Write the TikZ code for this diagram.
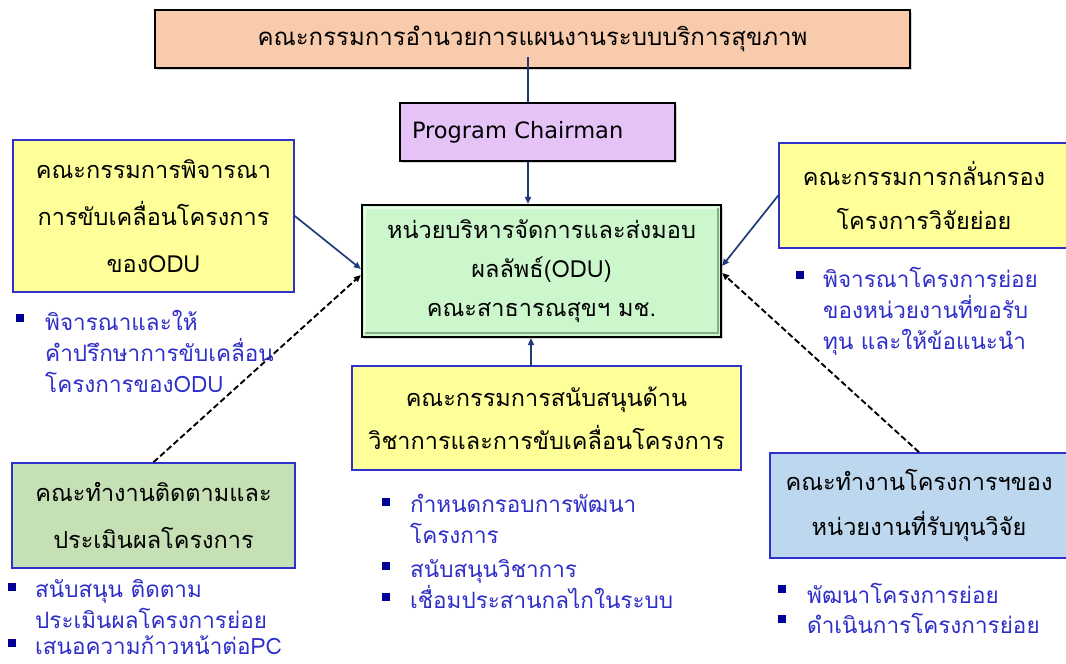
\documentclass[tikz,border=0pt]{standalone}
\usepackage{fontspec}
\newfontfamily\thai[Script=Thai]{Loma}
\newfontfamily\latn{DejaVu Sans}
\usetikzlibrary{shadows,arrows.meta}
\definecolor{peach}{HTML}{F8CBAD}
\definecolor{lilac}{HTML}{E6C3F7}
\definecolor{mint}{HTML}{CCF7CC}
\definecolor{lemon}{HTML}{FFFF99}
\definecolor{sage}{HTML}{C5E0B4}
\definecolor{sky}{HTML}{BDD7EE}
\definecolor{boxblue}{HTML}{3030CC}
\definecolor{navy}{HTML}{1F3A78}
\definecolor{bultext}{HTML}{2E2EC8}
\definecolor{bulsq}{HTML}{000099}
\begin{document}
\begin{tikzpicture}[x=1pt,y=-1pt,
  dark/.style={draw=black, line width=2.2pt, inner sep=0pt, align=center,
    drop shadow={shadow xshift=1.5pt, shadow yshift=-1.5pt, opacity=0.35}},
  box/.style={draw=boxblue, line width=1.6pt, inner sep=0pt, align=center,
    font=\thai\fontsize{23.5}{47}\selectfont},
  bul/.style={anchor=base west, inner sep=0pt, align=left, text=bultext,
    font=\thai\fontsize{22.5}{31}\selectfont},
  sq/.style={fill=bulsq, minimum size=8.5pt, inner sep=0pt},
  conn/.style={draw=navy, line width=1.7pt, -{Triangle[length=7pt,width=6pt]}},
  dconn/.style={draw=black, line width=1.9pt, dash pattern=on 6pt off 3pt, -{Triangle[length=7pt,width=6pt]}}
]
\useasboundingbox (0,0) rectangle (1066,664);

% boxes
\node[dark, fill=peach, minimum width=755pt, minimum height=58pt,
  font=\thai\fontsize{24}{28}\selectfont] (top) at (532.5,39) {คณะกรรมการอำนวยการแผนงานระบบบริการสุขภาพ};
\node[dark, fill=lilac, minimum width=275pt, minimum height=58pt, text width=251pt, align=left,
  font=\latn\fontsize{22.5}{26}\selectfont] (pc) at (537.5,132) {Program Chairman};
\node[dark, fill=mint, minimum width=359pt, minimum height=132pt,
  font=\thai\fontsize{23.5}{39}\selectfont] (odu) at (541.5,271) {หน่วยบริหารจัดการและส่งมอบ\\ผลลัพธ์(ODU)\\คณะสาธารณสุขฯ มช.};
\draw[white, opacity=0.6, line width=2pt] (365,333) -- (365,208) -- (718,208);
\draw[black!45!mint, opacity=0.7, line width=2pt] (365,333) -- (718,333) -- (718,208);

\node[box, fill=lemon, minimum width=281pt, minimum height=152pt] (lt) at (153.5,216)
  {คณะกรรมการพิจารณา\\การขับเคลื่อนโครงการ\\ของODU};
\node[box, fill=lemon, minimum width=290pt, minimum height=105pt,
  font=\thai\fontsize{23.5}{44}\selectfont] (rt) at (924,195.5)
  {คณะกรรมการกลั่นกรอง\\โครงการวิจัยย่อย};
\node[box, fill=lemon, minimum width=389pt, minimum height=104pt,
  font=\thai\fontsize{23.5}{43}\selectfont] (ct) at (546.5,418)
  {คณะกรรมการสนับสนุนด้าน\\วิชาการและการขับเคลื่อนโครงการ};
\node[box, fill=sage, minimum width=283pt, minimum height=105pt,
  font=\thai\fontsize{23.5}{47}\selectfont] (lb) at (153.5,515.5)
  {คณะทำงานติดตามและ\\ประเมินผลโครงการ};
\node[box, fill=sky, minimum width=298pt, minimum height=105pt,
  font=\thai\fontsize{23.5}{45}\selectfont] (rb) at (919,505.5)
  {คณะทำงานโครงการฯของ\\หน่วยงานที่รับทุนวิจัย};

% connectors
\coordinate (tj) at (528,57);
\draw[draw=navy, line width=1.7pt] (tj) -- (tj |- pc.north);
\draw[conn] ([xshift=-9.5pt]pc.south) -- ([xshift=-9.5pt]pc.south |- odu.north);
\coordinate (cu) at (531,366);
\draw[conn] (cu) -- (cu |- odu.south);
\draw[conn] (lt.east) -- ([yshift=2pt]odu.west);
\draw[conn] (rt.west) -- ([yshift=5pt]odu.east);
\draw[dconn] (lb.north) -- ([yshift=-4pt]odu.west);
\draw[dconn] (rb.north) -- ([yshift=-2pt]odu.east);

% bullets (base anchor = last line's baseline)
\node[sq] (s1) at (20,318) {};
\node[bul] (t1) at (45,392) {พิจารณาและให้\\คำปรึกษาการขับเคลื่อน\\โครงการของODU};
\node[sq] (s2) at (800,275) {};
\node[bul] (t2) at (823,349) {พิจารณาโครงการย่อย\\ของหน่วยงานที่ขอรับ\\ทุน และให้ข้อแนะนำ};
\node[sq] (s3) at (386,502) {};
\node[bul] (t3) at (410,543) {กำหนดกรอบการพัฒนา\\โครงการ};
\node[sq] (s4) at (386,566) {};
\node[bul] (t4) at (410,577) {สนับสนุนวิชาการ};
\node[sq] (s5) at (386,597) {};
\node[bul] (t5) at (410,608) {เชื่อมประสานกลไกในระบบ};
\node[sq] (s6) at (12,587) {};
\node[bul] (t6) at (35,628) {สนับสนุน ติดตาม\\ประเมินผลโครงการย่อย};
\node[sq] (s7) at (12,643) {};
\node[bul, text depth=0pt] (t7) at (35,654) {เสนอความก้าวหน้าต่อPC};
\node[sq] (s8) at (782,589) {};
\node[bul] (t8) at (807,603) {พัฒนาโครงการย่อย};
\node[sq] (s9) at (782,619) {};
\node[bul] (t9) at (807,633) {ดำเนินการโครงการย่อย};
\end{tikzpicture}
\end{document}
